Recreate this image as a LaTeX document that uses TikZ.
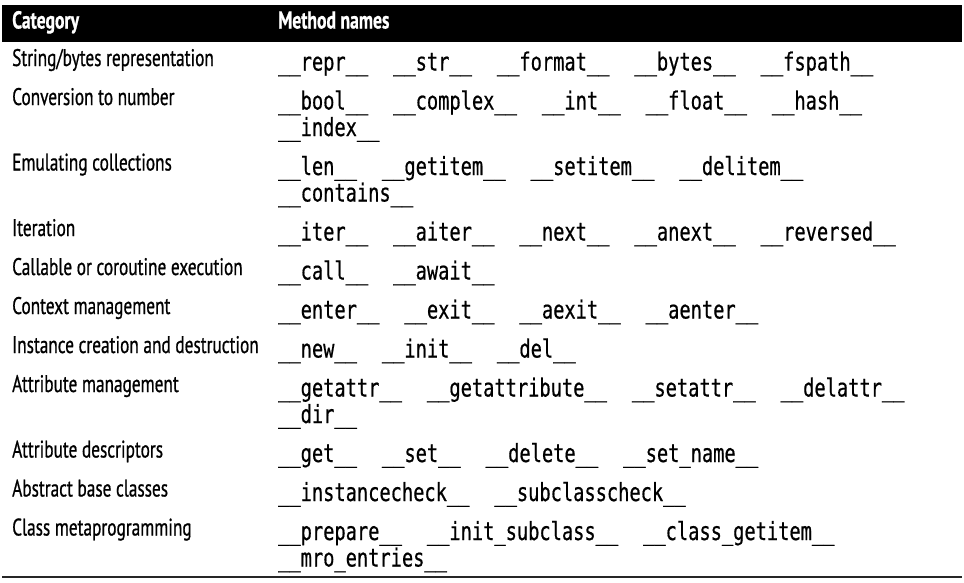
\documentclass[tikz,border=0pt]{standalone}
\usepackage{fontspec}
\setmainfont{PT Sans}[FakeStretch=0.72,FakeBold=0.7]
\newfontfamily\monofam{DejaVu Sans Mono}[FakeStretch=0.7475,FakeBold=0.6]
\newcommand\dund[1]{\_\_#1\_\_}
\newcommand\mgap{\hspace{25pt}}
\begin{document}
\begin{tikzpicture}[x=1pt,y=-1pt,
  cat/.style={anchor=base west,inner sep=0pt,font=\fontsize{24}{28}\selectfont},
  head/.style={cat,text=white,font=\fontsize{24.5}{28}\selectfont\bfseries},
  meth/.style={anchor=base west,inner sep=0pt,font=\fontsize{25}{28}\monofam}]
\useasboundingbox (0,0) rectangle (964,582);
\fill[black] (2,5) rectangle (962,42);
\node[head] (hcat) at (12,28.5) {Category};
\node[head] (hmeth) at (278,28.5) {Method names};
% rows
\node[cat] (c1) at (12,66) {String/bytes representation};
\node[meth] (m1) at (278,70.5) {\dund{repr}\mgap\dund{str}\mgap\dund{format}\mgap\dund{bytes}\mgap\dund{fspath}};
\node[cat] (c2) at (12,105) {Conversion to number};
\node[meth] (m2) at (278,109.5) {\dund{bool}\mgap\dund{complex}\mgap\dund{int}\mgap\dund{float}\mgap\dund{hash}};
\node[meth] (m2b) at (278,136) {\dund{index}};
\node[cat] (c3) at (12,170.5) {Emulating collections};
\node[meth] (m3) at (278,175) {\dund{len}\mgap\dund{getitem}\mgap\dund{setitem}\mgap\dund{delitem}};
\node[meth] (m3b) at (278,201.5) {\dund{contains}};
\node[cat] (c4) at (12,236) {Iteration};
\node[meth] (m4) at (278,240.5) {\dund{iter}\mgap\dund{aiter}\mgap\dund{next}\mgap\dund{anext}\mgap\dund{reversed}};
\node[cat] (c5) at (12,275) {Callable or coroutine execution};
\node[meth] (m5) at (278,279.5) {\dund{call}\mgap\dund{await}};
\node[cat] (c6) at (12,314) {Context management};
\node[meth] (m6) at (278,318.5) {\dund{enter}\mgap\dund{exit}\mgap\dund{aexit}\mgap\dund{aenter}};
\node[cat] (c7) at (12,353) {Instance creation and destruction};
\node[meth] (m7) at (278,357.5) {\dund{new}\mgap\dund{init}\mgap\dund{del}};
\node[cat] (c8) at (12,392) {Attribute management};
\node[meth] (m8) at (278,396.5) {\dund{getattr}\mgap\dund{getattribute}\mgap\dund{setattr}\mgap\dund{delattr}};
\node[meth] (m8b) at (278,423) {\dund{dir}};
\node[cat] (c9) at (12,457.5) {Attribute descriptors};
\node[meth] (m9) at (278,462) {\dund{get}\mgap\dund{set}\mgap\dund{delete}\mgap\dund{set\_name}};
\node[cat] (c10) at (12,496.5) {Abstract base classes};
\node[meth] (m10) at (278,501) {\dund{instancecheck}\mgap\dund{subclasscheck}};
\node[cat] (c11) at (12,535.5) {Class metaprogramming};
\node[meth] (m11) at (278,540) {\dund{prepare}\mgap\dund{init\_subclass}\mgap\dund{class\_getitem}};
\node[meth] (m11b) at (278,566.5) {\dund{mro\_entries}};
\draw[line width=2pt,black!85] (2,577) -- (962,577);
\end{tikzpicture}
\end{document}
